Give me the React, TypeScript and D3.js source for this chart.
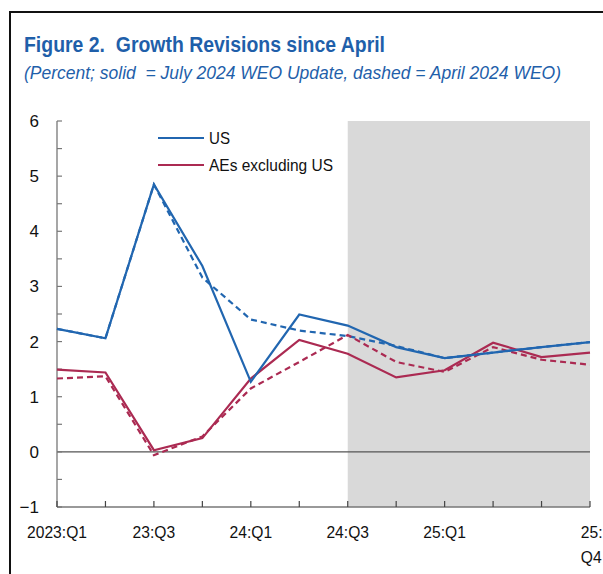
import React from "react";
import * as d3 from "d3";

const quarters = ["23Q1","23Q2","23Q3","23Q4","24Q1","24Q2","24Q3","24Q4","25Q1","25Q2","25Q3","25Q4"];
const tickLabels: [number, string[]][] = [
  [0, ["2023:Q1"]],
  [2, ["23:Q3"]],
  [4, ["24:Q1"]],
  [6, ["24:Q3"]],
  [8, ["25:Q1"]],
  [11, ["25:", "Q4"]],
];
const usJuly = [2.23, 2.06, 4.85, 3.37, 1.27, 2.49, 2.29, 1.9, 1.7, 1.8, 1.9, 1.99];
const usApril = [2.23, 2.06, 4.85, 3.16, 2.4, 2.2, 2.1, 1.92, 1.7, 1.8, 1.9, 1.99];
const aeJuly = [1.49, 1.44, 0.03, 0.25, 1.33, 2.03, 1.78, 1.35, 1.48, 1.98, 1.72, 1.8];
const aeApril = [1.33, 1.37, -0.06, 0.28, 1.15, 1.63, 2.12, 1.63, 1.45, 1.9, 1.67, 1.58];
const yTicks = [-1, 0, 1, 2, 3, 4, 5, 6];
const shadeFrom = 6;

const BLUE = "#2166b0";
const RED = "#ab2a52";
const TITLE = "#1f5faa";
const FONT = "'Liberation Sans Narrow', 'Arial Narrow', 'Liberation Sans', Arial, sans-serif";

export default function App() {
  const W = 603, H = 574;
  const x = d3.scaleLinear().domain([0, quarters.length - 1]).range([57, 590]);
  const y = d3.scaleLinear().domain([-1, 6]).range([507, 121]);
  const line = d3.line<number>().x((_, i) => x(i)).y((d) => y(d));
  const minor = d3.range(-1, 6.01, 0.5);

  return (
    <svg width={W} height={H} style={{ position: "absolute", left: 0, top: 0, background: "#fff" }} fontFamily={FONT}>
      {/* frame */}
      <line x1={10} x2={W} y1={12} y2={12} stroke="#111" strokeWidth={2} />
      <line x1={10} x2={10} y1={11} y2={H} stroke="#111" strokeWidth={2} />
      <text x={24} y={52} fill={TITLE} fontWeight="bold" fontSize={22} textLength={361} lengthAdjust="spacingAndGlyphs">Figure 2.&#160; Growth Revisions since April</text>
      <text x={24} y={79} fill={TITLE} fontStyle="italic" fontSize={17.5} textLength={537} lengthAdjust="spacingAndGlyphs">(Percent; solid&#160; = July 2024 WEO Update, dashed = April 2024 WEO)</text>

      {/* shade */}
      <rect x={x(shadeFrom)} y={y(6)} width={x(quarters.length - 1) - x(shadeFrom)} height={y(-1) - y(6)} fill="#d9d9d9" />

      {/* zero line */}
      <line x1={x(0)} x2={x(quarters.length - 1)} y1={y(0)} y2={y(0)} stroke="#555" strokeWidth={1.3} />

      {/* y axis */}
      <line x1={x(0)} x2={x(0)} y1={y(6)} y2={y(-1)} stroke="#777" strokeWidth={1.3} />
      {minor.map((v) => (
        <line key={v} x1={x(0)} x2={x(0) + 5} y1={y(v)} y2={y(v)} stroke="#777" strokeWidth={1.2} />
      ))}
      {yTicks.map((v) => (
        <text key={v} x={39} y={y(v)} dy="0.35em" textAnchor="end" fontSize={17} fill="#111">
          {v < 0 ? "\u2212" + Math.abs(v) : v}
        </text>
      ))}

      {/* x axis */}
      <line x1={x(0)} x2={x(quarters.length - 1)} y1={y(-1)} y2={y(-1)} stroke="#777" strokeWidth={1.3} />
      {quarters.map((q, i) => (
        <line key={q} x1={x(i)} x2={x(i)} y1={y(-1)} y2={y(-1) - 6} stroke="#444" strokeWidth={1.2} />
      ))}
      {tickLabels.map(([i, lines]) =>
        lines.map((t, k) => (
          <text key={t + k} x={x(i)} y={538 + k * 25} textAnchor={lines.length > 1 ? "start" : "middle"} dx={lines.length > 1 ? -10 : 0} fontSize={17} fill="#111"
            transform={`translate(${x(i)},0) scale(0.92,1) translate(${-x(i)},0)`}>
            {t}
          </text>
        ))
      )}

      {/* lines */}
      <path d={line(usApril) ?? ""} fill="none" stroke={BLUE} strokeWidth={2.2} strokeDasharray="6 4" />
      <path d={line(aeApril) ?? ""} fill="none" stroke={RED} strokeWidth={2.2} strokeDasharray="6 4" />
      <path d={line(aeJuly) ?? ""} fill="none" stroke={RED} strokeWidth={2.2} />
      <path d={line(usJuly) ?? ""} fill="none" stroke={BLUE} strokeWidth={2.2} />

      {/* legend */}
      <line x1={158} x2={204} y1={138} y2={138} stroke={BLUE} strokeWidth={2.2} />
      <text x={209} y={138} dy="0.35em" fontSize={17} fill="#111" textLength={21} lengthAdjust="spacingAndGlyphs">US</text>
      <line x1={158} x2={204} y1={165} y2={165} stroke={RED} strokeWidth={2.2} />
      <text x={209} y={165} dy="0.35em" fontSize={17} fill="#111" textLength={124} lengthAdjust="spacingAndGlyphs">AEs excluding US</text>
    </svg>
  );
}
